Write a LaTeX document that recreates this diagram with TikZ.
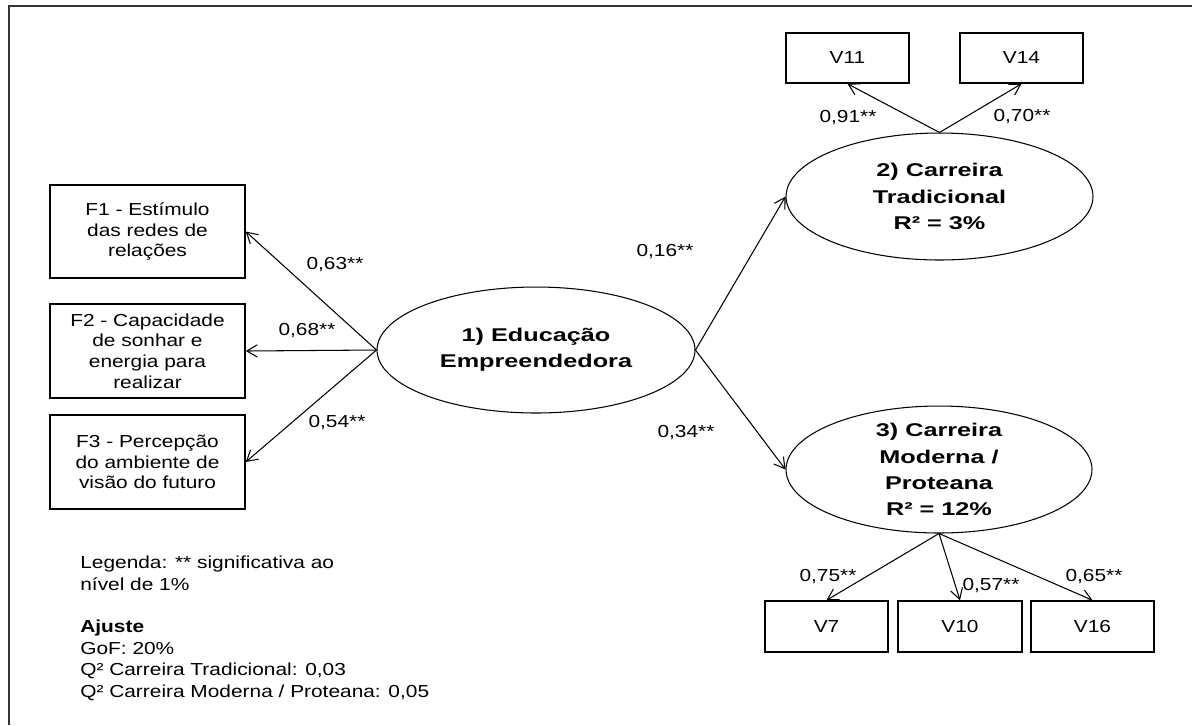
\documentclass[tikz,border=0pt]{standalone}
\usepackage{fontspec}
\setmainfont{Liberation Sans}[FakeStretch=1.2]
\usetikzlibrary{shapes.geometric, arrows.meta}

\begin{document}
\begin{tikzpicture}[x=0.02cm, y=-0.02cm, font=\fontsize{9.9}{11.8}\selectfont,
    indicator/.style={draw, line width=0.9pt, align=center, inner sep=0pt},
    latent/.style={draw, ellipse, line width=0.6pt, inner sep=0pt},
    construct/.style={align=center, font=\bfseries\fontsize{10.5}{14.9}\selectfont, xscale=1.14, transform shape},
    link/.style={-{Straight Barb[length=6pt, width=7pt]}, line width=0.6pt},
    coef/.style={inner sep=0pt}]
    \useasboundingbox (0,0) rectangle (1192,725);

    % Frame
    \draw [line width=1.2pt, black!80] (1192,6) -- (9,6) -- (9,725);

    % 1) Educacao Empreendedora
    \node [latent, minimum width=6.36cm, minimum height=2.52cm] (edu) at (536,350) {};
    \node [construct] (edutext) at (edu) {1) Educação\\Empreendedora};

    % Indicators of 1)
    \node [indicator, minimum width=3.9cm, minimum height=1.86cm] (f1) at (147.5,231.5) {F1 - Estímulo\\das redes de\\relações};
    \node [indicator, minimum width=3.9cm, minimum height=1.88cm] (f2) at (147.5,351) {F2 - Capacidade\\de sonhar e\\energia para\\realizar};
    \node [indicator, minimum width=3.9cm, minimum height=1.88cm] (f3) at (147.5,462) {F3 - Percepção\\do ambiente de\\visão do futuro};

    \draw [link] (edu.west) -- (f1.east);
    \draw [link] (edu.west) -- (f2.east);
    \draw [link] (edu.west) -- (f3.east);
    \node [coef] (l63) at (335,265) {0,63**};
    \node [coef] (l68) at (307,331) {0,68**};
    \node [coef] (l54) at (337,423) {0,54**};

    % 2) Carreira Tradicional
    \node [latent, minimum width=6.14cm, minimum height=2.54cm] (trad) at (939.5,196.5) {};
    \node [construct] (tradtext) at (trad) {2) Carreira\\Tradicional\\R² = 3\%};
    \node [indicator, minimum width=2.46cm, minimum height=1cm] (v11) at (847.5,58) {V11};
    \node [indicator, minimum width=2.46cm, minimum height=1cm] (v14) at (1021.5,58) {V14};
    \draw [link] (trad.north) -- (v11.south);
    \draw [link] (trad.north) -- (v14.south);
    \node [coef] (l91) at (848,118) {0,91**};
    \node [coef] (l70) at (1022,117) {0,70**};

    % 3) Carreira Moderna / Proteana
    \node [latent, minimum width=6.12cm, minimum height=2.54cm] (mod) at (939,469.5) {};
    \node [construct] (modtext) at (mod) {3) Carreira\\Moderna /\\Proteana\\R² = 12\%};
    \node [indicator, minimum width=2.46cm, minimum height=1.02cm] (v7) at (826.5,626.5) {V7};
    \node [indicator, minimum width=2.48cm, minimum height=1.02cm] (v10) at (960,626.5) {V10};
    \node [indicator, minimum width=2.46cm, minimum height=1.02cm] (v16) at (1092.5,626.5) {V16};
    \draw [link] (mod.south) -- (v7.north);
    \draw [link] (mod.south) -- (v10.north);
    \draw [link] (mod.south) -- (v16.north);
    \node [coef] (l75) at (828,577) {0,75**};
    \node [coef] (l57) at (991,586) {0,57**};
    \node [coef] (l65) at (1094,577) {0,65**};

    % Structural paths
    \draw [link] (edu.east) -- (trad.west);
    \draw [link] (edu.east) -- (mod.west);
    \node [coef] (l16) at (665,252) {0,16**};
    \node [coef] (l34) at (686,433) {0,34**};

    % Legend and fit
    \node [anchor=north west, align=left, inner sep=0pt, font=\fontsize{9.9}{12.2}\selectfont] (legend) at (80,556) {Legenda: ** significativa ao\\nível de 1\%};
    \node [anchor=north west, align=left, inner sep=0pt, font=\fontsize{9.9}{12.2}\selectfont] (fit) at (80,620) {\textbf{Ajuste}\\GoF: 20\%\\Q² Carreira Tradicional: 0,03\\Q² Carreira Moderna / Proteana: 0,05};
\end{tikzpicture}
\end{document}
